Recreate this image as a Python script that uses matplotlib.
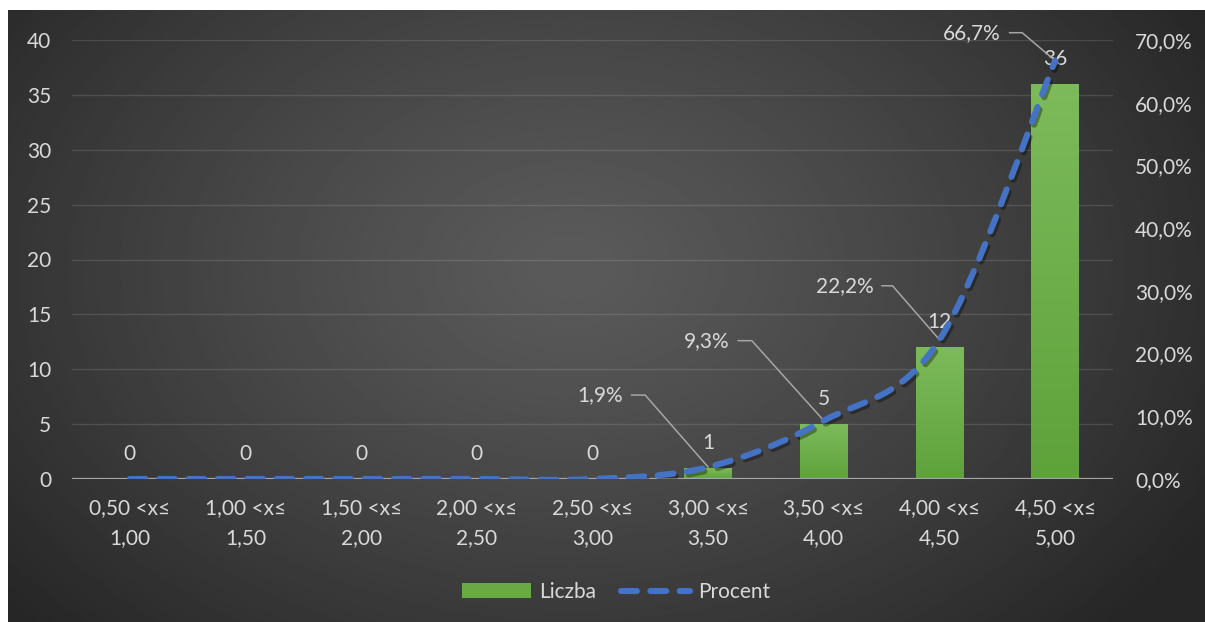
import numpy as np
import matplotlib
matplotlib.use('Agg')
import matplotlib.pyplot as plt
from matplotlib.path import Path
from matplotlib.patches import PathPatch, Patch
from matplotlib.lines import Line2D
from matplotlib.colors import LinearSegmentedColormap
import matplotlib.patheffects as pe

plt.rcParams['font.family'] = ['Lato', 'DejaVu Sans']

# ---------------- data ----------------
categories = ['0,50 <x≤\n1,00', '1,00 <x≤\n1,50', '1,50 <x≤\n2,00', '2,00 <x≤\n2,50',
              '2,50 <x≤\n3,00', '3,00 <x≤\n3,50', '3,50 <x≤\n4,00', '4,00 <x≤\n4,50',
              '4,50 <x≤\n5,00']
counts = [0, 0, 0, 0, 0, 1, 5, 12, 36]
percents = [0.0, 0.0, 0.0, 0.0, 0.0, 1.9, 9.3, 22.2, 66.7]
left_ticks = [0, 5, 10, 15, 20, 25, 30, 35, 40]
right_ticks = [0, 10, 20, 30, 40, 50, 60, 70]
series_names = ['Liczba', 'Procent']

# label placement (pixels): text offset from point
pct_label_offsets = {5: (-108, 72), 6: (-117, 80), 7: (-95, 54), 8: (-83, 28)}
pct_corner_dx = {5: -63, 6: -72, 7: -47, 8: -33}

TXT = '#d9d9d9'
GREEN = '#6aaa45'
BLUE = '#4472c4'
FS = 15

W, H = 1205, 622
fig = plt.figure(figsize=(W / 100, H / 100), dpi=100, facecolor='white')

# background radial gradient
bg = fig.add_axes([8 / W, 0, 1 - 8 / W, 1 - 10 / H], zorder=-10)
ny, nx = 300, 600
yy, xx = np.mgrid[0:ny, 0:nx]
cx, cy = nx * 0.47, ny * 0.42
r = np.sqrt(((xx - cx) / (nx * 0.62)) ** 2 + ((yy - cy) / (ny * 0.85)) ** 2)
r = np.clip(r, 0, 1)
val = 0.355 - (0.355 - 0.15) * r ** 1.2
bg.imshow(val, cmap='gray', vmin=0, vmax=1, aspect='auto', extent=[0, 1, 0, 1],
          interpolation='bilinear')
bg.set_xlim(0, 1)
bg.set_ylim(0, 1)
bg.axis('off')

# main axes
ax = fig.add_axes([72 / W, 1 - 479 / H, (1113 - 72) / W, (479 - 40) / H])
ax.set_facecolor('none')
x = np.arange(len(categories))
bars = ax.bar(x, counts, width=0.41, color=GREEN, zorder=2, linewidth=0)
cmap = LinearSegmentedColormap.from_list('g', ['#5ea23a', '#7dba5b'])
grad = np.linspace(0, 1, 256).reshape(-1, 1)
for b in bars:
    if b.get_height() > 0:
        im = ax.imshow(grad, extent=[b.get_x(), b.get_x() + b.get_width(), 0, b.get_height()],
                       origin='lower', aspect='auto', cmap=cmap, zorder=2.1)
        im.set_clip_path(b)

ax.set_xlim(-0.5, len(categories) - 0.5)
ax.set_ylim(0, 40)
for v in left_ticks[1:]:
    ax.axhline(v, color='white', alpha=0.12, lw=1, zorder=1)
ax.axhline(0, color='#a6a6a6', lw=1.6, zorder=3)
for s in ax.spines.values():
    s.set_visible(False)
ax.set_yticks(left_ticks)
ax.set_yticklabels([str(v) for v in left_ticks])
ax.set_xticks(x)
ax.set_xticklabels(categories)
ax.tick_params(axis='y', length=0, pad=15, labelsize=FS, labelcolor=TXT)
ax.tick_params(axis='x', length=0, pad=14, labelsize=FS, labelcolor=TXT)
for t in ax.get_xticklabels():
    t.set_linespacing(1.6)

for i, c in enumerate(counts):
    ax.annotate(str(c), xy=(i, c), xytext=(0, 25), textcoords='offset pixels',
                ha='center', va='center', color=TXT, fontsize=FS, zorder=4)

# secondary axis with smoothed line
ax2 = ax.twinx()
ax2.set_ylim(0, 70)
ax2.set_xlim(-0.5, len(categories) - 0.5)
for s in ax2.spines.values():
    s.set_visible(False)
ax2.set_yticks(right_ticks)
ax2.set_yticklabels([f"{v:.1f}%".replace('.', ',') for v in right_ticks])
ax2.tick_params(axis='y', length=0, pad=16, labelsize=FS, labelcolor=TXT)

P = np.column_stack([x.astype(float), np.array(percents)])
n = len(P)
verts = [tuple(P[0])]
codes = [Path.MOVETO]
for i in range(n - 1):
    p0 = P[i - 1] if i > 0 else P[i]
    p1 = P[i]
    p2 = P[i + 1]
    p3 = P[i + 2] if i + 2 < n else P[i + 1]
    c1 = p1 + (p2 - p0) / 6.0
    c2 = p2 - (p3 - p1) / 6.0
    verts += [tuple(c1), tuple(c2), tuple(p2)]
    codes += [Path.CURVE4] * 3
LW = 4.4
DASH = (0, (2.6, 2.2))
line = PathPatch(Path(verts, codes), fill=False, edgecolor=BLUE, lw=LW,
                 linestyle=DASH, capstyle='round', zorder=5)
line.set_path_effects([pe.SimpleLineShadow(offset=(1.5, -2), shadow_color='black', alpha=0.35),
                       pe.Normal()])
ax2.add_patch(line)

for i, p in enumerate(percents):
    if i not in pct_label_offsets:
        continue
    tx, ty = pct_label_offsets[i]
    ang = np.degrees(np.arctan2(ty, pct_corner_dx[i]))
    ax2.annotate(f"{p:.1f}%".replace('.', ','), xy=(i, p), xytext=(tx, ty),
                 textcoords='offset pixels', ha='center', va='center', color=TXT, fontsize=FS,
                 arrowprops=dict(arrowstyle='-', color='#a6a6a6', lw=1.1, shrinkA=4, shrinkB=0,
                                 connectionstyle=f'angle,angleA=0,angleB={ang},rad=0'))

# legend
handles = [Patch(facecolor=GREEN, edgecolor='none'),
           Line2D([], [], color=BLUE, lw=LW, linestyle=DASH, dash_capstyle='round')]
fig.legend(handles, series_names, loc='center', bbox_to_anchor=(616 / W, 1 - 592 / H), ncol=2,
           frameon=False, fontsize=FS, labelcolor=TXT, handlelength=3.3, handletextpad=0.4,
           columnspacing=1.2)

fig.savefig('out.png', dpi=100, facecolor='white')
